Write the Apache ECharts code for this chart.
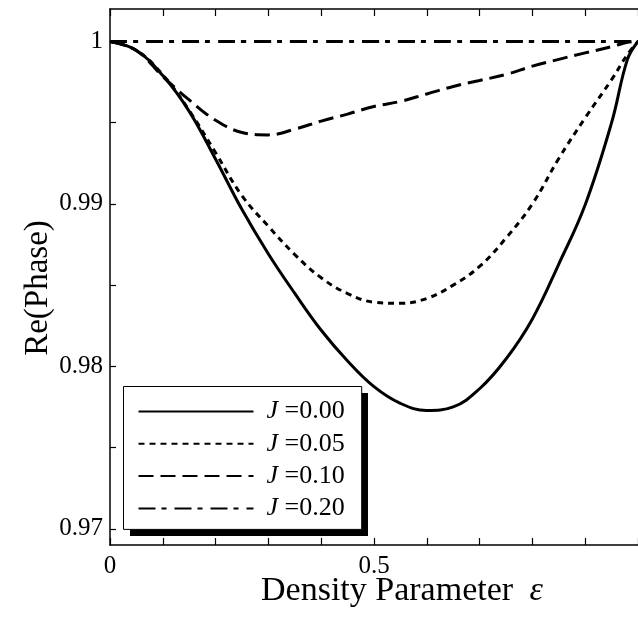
<!DOCTYPE html>
<html>
<head>
<meta charset="utf-8">
<script src="https://cdn.jsdelivr.net/npm/echarts@6/dist/echarts.min.js"></script>
<style>
html,body{margin:0;padding:0;background:#fff;}
#chart{width:638px;height:624px;}
</style>
</head>
<body>
<div id="chart"></div>
<script>
// Density parameter (x values)
const eps = [0, 0.05, 0.10, 0.15, 0.20, 0.25, 0.30, 0.35, 0.40, 0.45, 0.50,
             0.55, 0.60, 0.65, 0.70, 0.75, 0.80, 0.85, 0.90, 0.95, 0.98, 1.00];
// Re(Phase) for each J
const reJ000 = [1.00000, 0.99945, 0.99790, 0.99570, 0.99275, 0.98965, 0.98692, 0.98449, 0.98222, 0.98033, 0.97875,
                0.97772, 0.97728, 0.97750, 0.97862, 0.98045, 0.98292, 0.98630, 0.98995, 0.99500, 0.99890, 1.00000];
const reJ005 = [1.00000, 0.99945, 0.99795, 0.99575, 0.99315, 0.99050, 0.98862, 0.98688, 0.98545, 0.98448, 0.98395,
                0.98388, 0.98418, 0.98500, 0.98615, 0.98790, 0.99000, 0.99280, 0.99530, 0.99765, 0.99920, 1.00000];
const reJ010 = [1.00000, 0.99945, 0.99785, 0.99640, 0.99515, 0.99440, 0.99425, 0.99460, 0.99510, 0.99553, 0.99600,
                0.99631, 0.99677, 0.99723, 0.99760, 0.99797, 0.99848, 0.99890, 0.99930, 0.99968, 0.99995, 1.00000];
const reJ020 = [1.00000, 1.00000, 1.00000, 1.00000, 1.00000, 1.00000, 1.00000, 1.00000, 1.00000, 1.00000, 1.00000,
                1.00000, 1.00000, 1.00000, 1.00000, 1.00000, 1.00000, 1.00000, 1.00000, 1.00000, 1.00000, 1.00000];
const jLabels = ['0.00', '0.05', '0.10', '0.20'];
const xTickValues = [0, 0.1, 0.2, 0.3, 0.4, 0.5, 0.6, 0.7, 0.8, 0.9, 1.0];
const xLabelValues = [0, 0.5];
const yTickValues = [0.97, 0.975, 0.98, 0.985, 0.99, 0.995, 1.0];
const yLabelValues = [0.97, 0.98, 0.99, 1.0];

const FONT = "'Liberation Serif', 'Times New Roman', serif";
const allY = [reJ000, reJ005, reJ010, reJ020];
const dashes = ['solid', [6, 5], [15, 7], [17, 6, 5, 8]];

const series = allY.map((ys, k) => ({
  name: 'J =' + jLabels[k],
  type: 'line',
  data: eps.map((x, i) => [x, ys[i]]),
  showSymbol: false,
  symbol: 'none',
  smooth: 0.4,
  lineStyle: { color: '#000', width: 3, type: dashes[k] },
  itemStyle: { color: '#000' },
  z: 3
}));

// legend box geometry (layout only)
const LEG = { left: 123.5, top: 386.5, width: 238, height: 143, shadow: 7 };

const chart = echarts.init(document.getElementById('chart'), null, { renderer: 'canvas' });
chart.setOption({
  animation: false,
  backgroundColor: '#fff',
  grid: { left: 110, right: -9.4, top: 9, bottom: 79 },
  graphic: [{
    type: 'rect',
    left: 130, top: 393,
    shape: { width: LEG.width, height: LEG.height },
    style: { fill: '#000' },
    z: 3, silent: true
  }],
  xAxis: [{
    type: 'value', min: 0, max: 1, position: 'bottom',
    name: 'Density Parameter {e|ε}',
    nameLocation: 'middle', nameGap: 29, nameMoveOverlap: false,
    nameTextStyle: {
      fontFamily: FONT, fontSize: 34, color: '#000', padding: [0, 0, 0, 56],
      rich: { e: { fontFamily: FONT, fontSize: 34, fontStyle: 'italic', color: '#000', padding: [0, 0, 0, 8] } }
    },
    axisLine: { show: true, lineStyle: { color: '#000', width: 1.5 } },
    axisTick: { show: true, inside: true, length: 7, lineStyle: { color: '#000', width: 1.2 }, customValues: xTickValues },
    axisLabel: { show: true, fontFamily: FONT, fontSize: 25, color: '#000', margin: 9, customValues: xLabelValues,
      formatter: v => (v === 0 ? '0' : String(v)) },
    splitLine: { show: false }
  }, {
    type: 'value', min: 0, max: 1, position: 'top',
    axisLine: { show: true, onZero: false, lineStyle: { color: '#000', width: 1.5 } },
    axisTick: { show: true, inside: true, length: 7, lineStyle: { color: '#000', width: 1.2 }, customValues: xTickValues },
    axisLabel: { show: false },
    splitLine: { show: false }
  }],
  yAxis: [{
    type: 'value', min: 0.969, max: 1.002, position: 'left',
    name: 'Re(Phase)', nameLocation: 'middle', nameGap: 55, nameMoveOverlap: false,
    nameTextStyle: { fontFamily: FONT, fontSize: 33, color: '#000', padding: [0, 22, 0, 0] },
    axisLine: { show: true, onZero: false, lineStyle: { color: '#000', width: 1.5 } },
    axisTick: { show: true, inside: true, length: 6, lineStyle: { color: '#000', width: 1.2 }, customValues: yTickValues },
    axisLabel: { show: true, fontFamily: FONT, fontSize: 25, color: '#000', margin: 7, customValues: yLabelValues,
      formatter: v => (Math.abs(v - 1) < 1e-9 ? '1' : v.toFixed(2)) },
    splitLine: { show: false }
  }],
  legend: {
    orient: 'vertical',
    left: LEG.left, top: LEG.top,
    padding: [12, 17, 8, 14],
    itemGap: 6.3,
    itemWidth: 115,
    itemHeight: 20,
    backgroundColor: '#fff',
    borderColor: '#000',
    borderWidth: 1,
    borderRadius: 0,
    selectedMode: false,
    z: 5,
    itemStyle: { color: 'rgba(0,0,0,0)', borderWidth: 0, opacity: 0 },
    data: series.map(s => s.name),
    formatter: name => '{i|J} =' + name.split('=')[1],
    textStyle: {
      fontFamily: FONT, fontSize: 26, color: '#000', lineHeight: 26,
      rich: {
        i: { fontFamily: FONT, fontSize: 26, fontStyle: 'italic', color: '#000', lineHeight: 26, padding: [0, 0, 0, 8] }
      }
    }
  },
  series: series
});
</script>
</body>
</html>
